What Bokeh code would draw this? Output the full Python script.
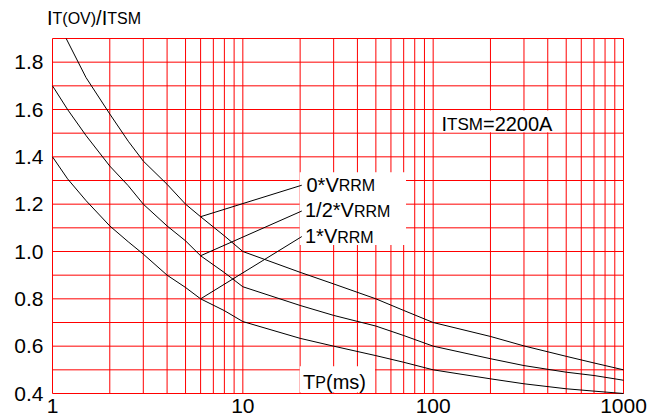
from bokeh.plotting import figure
from bokeh.models import Label, BoxAnnotation, Range1d
from bokeh.embed import file_html
from bokeh.resources import INLINE

# ---------------- data ----------------
tp_ms = [1, 1.2, 1.5, 2, 2.5, 3, 4, 5, 6, 8, 10, 20, 30, 50, 70, 100, 200, 300, 500, 700, 1000]
# the 0*VRRM curve enters the chart at its top edge (about 1.18 ms)
tp_0v = [1.18, 1.5, 2, 2.5, 3, 4, 5, 6, 8, 10, 20, 30, 50, 70, 100, 200, 300, 500, 700, 1000]
ratio_0v = [1.9, 1.735, 1.581, 1.466, 1.382, 1.284, 1.2, 1.147, 1.066, 1.0,
            0.912, 0.863, 0.80, 0.751, 0.70, 0.641, 0.601, 0.557, 0.529, 0.50]
ratio_halfv = [1.7, 1.6, 1.49, 1.361, 1.278, 1.2, 1.108, 1.045, 0.982, 0.911, 0.851,
               0.772, 0.73, 0.685, 0.645, 0.60, 0.547, 0.518, 0.49, 0.476, 0.456]
ratio_1v = [1.4, 1.307, 1.215, 1.108, 1.041, 0.989, 0.9, 0.848, 0.80, 0.75, 0.704,
            0.633, 0.60, 0.56, 0.532, 0.50, 0.462, 0.441, 0.42, 0.41, 0.40]
series = [(tp_0v, ratio_0v), (tp_ms, ratio_halfv), (tp_ms, ratio_1v)]
series_main = ["0*V", "1/2*V", "1*V"]
series_sub = "RRM"
leader_from_t = 6
leader_to_t = 20.4
leader_to_y = [1.28, 1.171, 1.063]

x_min, x_max = 1, 1000
y_min, y_max = 0.4, 1.9
x_ticks = [1, 10, 100, 1000]
x_tick_labels = ["1", "10", "100", "1000"]
y_ticks = [0.4, 0.6, 0.8, 1.0, 1.2, 1.4, 1.6, 1.8]
y_tick_labels = ["0.4", "0.6", "0.8", "1.0", "1.2", "1.4", "1.6", "1.8"]
x_grid = [1, 2, 3, 4, 5, 6, 7, 8, 9, 10, 20, 30, 40, 50, 60, 70, 80, 90, 100,
          200, 300, 400, 500, 600, 700, 800, 900, 1000]
y_grid = [0.4, 0.5, 0.6, 0.7, 0.8, 0.9, 1.0, 1.1, 1.2, 1.3, 1.4, 1.5, 1.6, 1.7, 1.8, 1.9]

# ---------------- layout helpers (canvas pixel -> data) ----------------
CW, CH = 656, 417
FX0, FW, FY1, FH = 52, 571, 393, 355     # where the red chart box sits on the canvas
def px_t(px):
    return 10 ** ((px - FX0) / FW * 3)
def py_v(py):
    return y_min + (FY1 - py) / FH * (y_max - y_min)

W = {'I': 278, 'T': 611, '(': 333, ')': 333, 'O': 778, 'V': 667, '/': 278, 'S': 667,
     'M': 833, 'R': 722, '0': 556, '1': 556, '2': 556, '*': 389, '=': 584, 'A': 667,
     'P': 667, 'm': 833, 's': 500}
def twidth(s, size):
    return sum(W.get(c, 556) for c in s) / 1000 * size

FONT = "Liberation Sans"
BIG, SMALL = 20, 16
RED = "#ff0000"

p = figure(x_axis_type="log", x_range=Range1d(px_t(0), px_t(CW)),
           y_range=Range1d(py_v(CH), py_v(0)),
           frame_width=CW, frame_height=CH, min_border=0,
           output_backend="svg", toolbar_location=None)
p.background_fill_color = "white"
p.border_fill_color = "white"
p.outline_line_color = None
p.xaxis.visible = False
p.yaxis.visible = False
p.xgrid.visible = False
p.ygrid.visible = False

# red chart grid (its outermost lines form the box)
p.segment(x0=x_grid, y0=[y_min] * len(x_grid), x1=x_grid, y1=[y_max] * len(x_grid),
          line_color=RED, line_width=1)
p.segment(x0=[x_min] * len(y_grid), y0=y_grid, x1=[x_max] * len(y_grid), y1=y_grid,
          line_color=RED, line_width=1)

# white boxes behind the text annotations
for l, r, b, t in ((19.9, 72, 1.027, 1.335), (105, 480, 1.504, 1.596), (19.9, 49.5, 0.404, 0.515)):
    p.add_layout(BoxAnnotation(left=l, right=r, bottom=b, top=t, fill_color="white",
                               fill_alpha=1, line_color=None))

# curves
for xs, ys in series:
    p.line(xs, ys, line_color="black", line_width=1, level="overlay")

# leader lines from the curves at 6 ms to their labels
for (xs, ys), ye in zip(series, leader_to_y):
    i6 = xs.index(leader_from_t)
    p.line([leader_from_t, leader_to_t], [ys[i6], ye], line_color="black", line_width=1,
           level="overlay")

def add_text(x, y, txt, size, align="left", baseline="middle"):
    p.add_layout(Label(x=x, y=y, text=txt, text_font=FONT, text_font_size=f"{size}px",
                       text_color="black", text_baseline=baseline, text_align=align))

def add_run(px, py, pieces):
    """pieces share the alphabetic baseline py (canvas px)"""
    x = px
    for txt, size in pieces:
        add_text(px_t(x), py_v(py - 0.35 * size), txt, size)
        x += twidth(txt, size)

# chart title (y quantity)
add_run(46.5, 24, [("I", BIG), ("T(OV)", SMALL), ("/", BIG), ("I", BIG), ("TSM", SMALL)])
# ITSM note
add_run(441, 130, [("I", BIG), ("TSM", 17), ("=2200A", BIG)])
# series labels
for main, py, px in zip(series_main, (191, 216.7, 242.3), (306, 304.5, 304.5)):
    add_run(px, py, [(main, BIG), (series_sub, SMALL)])
# x quantity
add_run(302.6, 388, [("T", BIG), ("P", SMALL), ("(ms)", BIG)])

# tick labels
for v, s in zip(x_ticks, x_tick_labels):
    add_text(v, py_v(412), s, 21, align="center", baseline="bottom")
for v, s in zip(y_ticks, y_tick_labels):
    add_text(px_t(43), v, s, 21, align="right", baseline="middle")

open("out.html", "w").write(file_html(p, INLINE))
